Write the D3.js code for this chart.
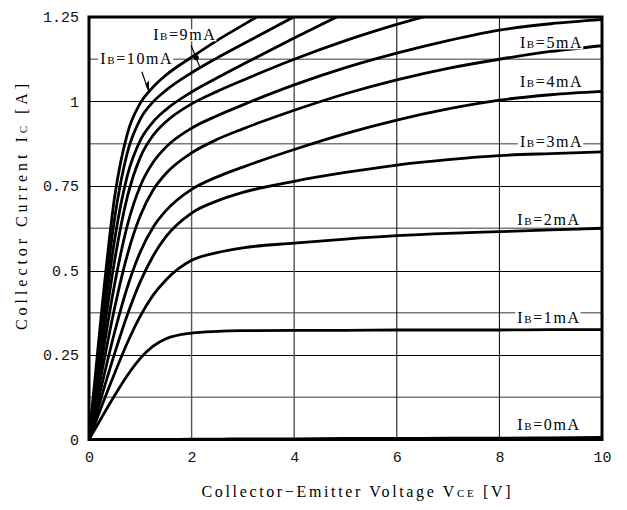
<!DOCTYPE html>
<html>
<head>
<meta charset="utf-8">
<script src="https://cdn.jsdelivr.net/npm/d3@7"></script>
<style>
  html, body { margin: 0; padding: 0; background: #fff; }
  svg { display: block; }
</style>
</head>
<body>
<svg id="chart" width="627" height="510"></svg>
<script>
// ---- data ----
const vce = [0, 0.25, 0.5, 0.75, 1, 1.25, 1.5, 2, 2.5, 3, 4, 5, 6, 7, 8, 9, 10];
const ib0  = [0, 0, 0, 0, 0, 0, 0, 0.001, 0.001, 0.002, 0.002, 0.003, 0.003, 0.004, 0.004, 0.005, 0.006];
const ib1  = [0, 0.066, 0.130, 0.190, 0.240, 0.276, 0.298, 0.315, 0.320, 0.322, 0.323, 0.323, 0.324, 0.324, 0.324, 0.325, 0.325];
const ib2  = [0, 0.100, 0.196, 0.287, 0.365, 0.427, 0.472, 0.530, 0.553, 0.567, 0.581, 0.593, 0.603, 0.610, 0.615, 0.620, 0.625];
const ib3  = [0, 0.130, 0.255, 0.370, 0.467, 0.543, 0.600, 0.670, 0.706, 0.731, 0.764, 0.790, 0.812, 0.828, 0.840, 0.846, 0.851];
const ib4  = [0, 0.162, 0.318, 0.452, 0.555, 0.628, 0.677, 0.740, 0.777, 0.806, 0.858, 0.905, 0.945, 0.978, 1.004, 1.020, 1.030];
const ib5  = [0, 0.200, 0.390, 0.548, 0.662, 0.738, 0.787, 0.848, 0.888, 0.919, 0.974, 1.023, 1.064, 1.098, 1.125, 1.148, 1.165];
const ib6  = [0, 0.237, 0.460, 0.635, 0.750, 0.820, 0.865, 0.921, 0.958, 0.990, 1.049, 1.100, 1.143, 1.180, 1.211, 1.230, 1.242];
const ib7  = [0, 0.274, 0.530, 0.720, 0.835, 0.900, 0.940, 0.993, 1.030, 1.063, 1.125, 1.180, 1.228, 1.270, null, null, null];
const ib8  = [0, 0.311, 0.592, 0.782, 0.885, 0.940, 0.976, 1.028, 1.070, 1.110, 1.188, 1.263, null, null, null, null, null];
const ib9  = [0, 0.348, 0.655, 0.850, 0.948, 0.999, 1.033, 1.085, 1.129, 1.170, 1.251, 1.330, null, null, null, null, null];
const ib10 = [0, 0.386, 0.718, 0.906, 0.995, 1.043, 1.078, 1.131, 1.181, 1.226, 1.316, null, null, null, null, null, null];
const seriesList = [ib0, ib1, ib2, ib3, ib4, ib5, ib6, ib7, ib8, ib9, ib10];

const xTicks = [0, 2, 4, 6, 8, 10];
const yTicks = [0, 0.25, 0.5, 0.75, 1, 1.25];
const yTickLabels = ["0", "0.25", "0.5", "0.75", "1", "1.25"];
const xMinorGrid = [2, 4, 6, 8];
const yMinorGrid = [0.125, 0.375, 0.625, 0.875, 1.125];

// curve labels: base current text, left/baseline position in data units (V, I)
const labelNames = ["0", "1", "2", "3", "4", "5", "9", "10"];
const labelV = [8.35, 8.35, 8.35, 8.4, 8.4, 8.4, 1.25, 0.22];
const labelI = [0.028, 0.345, 0.636, 0.866, 1.043, 1.157, 1.181, 1.111];

// ---- layout ----
const W = 627, H = 510;
const margin = { left: 89, right: 25, top: 17, bottom: 70.5 };
const svg = d3.select("#chart");
const x = d3.scaleLinear().domain([0, 10]).range([margin.left, W - margin.right]);
const y = d3.scaleLinear().domain([0, 1.25]).range([H - margin.bottom, margin.top]);

svg.append("rect").attr("width", W).attr("height", H).attr("fill", "#fff");

// grid
const grid = svg.append("g");
grid.selectAll(".hmin").data(yMinorGrid).enter().append("line")
  .attr("x1", x(0)).attr("x2", x(10)).attr("y1", d => y(d)).attr("y2", d => y(d))
  .attr("stroke", "#7a7a7a").attr("stroke-width", 1.3);
grid.selectAll(".hmaj").data(yTicks.slice(1, -1)).enter().append("line")
  .attr("x1", x(0)).attr("x2", x(10)).attr("y1", d => Math.round(y(d)) + 0.5).attr("y2", d => Math.round(y(d)) + 0.5)
  .attr("stroke", "#000").attr("stroke-width", 1);
grid.selectAll(".v").data(xMinorGrid).enter().append("line")
  .attr("y1", y(0)).attr("y2", y(1.25)).attr("x1", d => x(d)).attr("x2", d => x(d))
  .attr("stroke", d => d < 5 ? "#555" : "#000").attr("stroke-width", d => d < 5 ? 1.4 : 1);

// axes (tick labels only)
const tickFont = "'Liberation Mono', 'DejaVu Sans Mono', monospace";
const xAxis = d3.axisBottom(x).tickValues(xTicks).tickSize(0).tickPadding(12).tickFormat(d3.format("d"));
const gx = svg.append("g").attr("transform", `translate(0,${y(0)})`).call(xAxis);
gx.select(".domain").remove();
gx.selectAll("text").attr("font-family", tickFont).attr("font-size", 15).attr("fill", "#111");

const yAxis = d3.axisLeft(y).tickValues(yTicks).tickSize(0).tickPadding(10).tickFormat((d, i) => yTickLabels[i]);
const gy = svg.append("g").attr("transform", `translate(${x(0)},0)`).call(yAxis);
gy.select(".domain").remove();
gy.selectAll("text").attr("font-family", tickFont).attr("font-size", 15).attr("fill", "#111");

// curves
svg.append("clipPath").attr("id", "clip").append("rect")
  .attr("x", x(0)).attr("y", y(1.25)).attr("width", x(10) - x(0)).attr("height", y(0) - y(1.25));
const line = d3.line()
  .defined(d => d[1] != null)
  .x(d => x(d[0])).y(d => y(d[1]))
  .curve(d3.curveMonotoneX);
const curves = svg.append("g").attr("clip-path", "url(#clip)");
seriesList.forEach(s => {
  curves.append("path")
    .datum(vce.map((v, i) => [v, s[i]]))
    .attr("d", line)
    .attr("fill", "none").attr("stroke", "#000").attr("stroke-width", 2.8)
    .attr("stroke-linejoin", "round");
});

// labels with white background
const serif = "'Liberation Serif', 'Times New Roman', serif";
labelNames.forEach((n, i) => {
  const g = svg.append("g");
  const t = g.append("text")
    .attr("x", x(labelV[i])).attr("y", y(labelI[i]))
    .attr("font-family", serif).attr("font-size", 16).attr("fill", "#000")
    .attr("letter-spacing", 1.6);
  t.append("tspan").text("I");
  t.append("tspan").attr("font-size", 11).text("B");
  t.append("tspan").text("=" + n + "mA");
  const bb = t.node().getBBox();
  g.insert("rect", "text").attr("x", bb.x - 2).attr("y", bb.y + 3).attr("width", bb.width + 2).attr("height", bb.height - 5)
    .attr("fill", "#fff");
});

// leader lines
const leaders = svg.append("g").attr("stroke", "#000").attr("stroke-width", 1.2);
leaders.append("line").attr("x1", x(1.03)).attr("y1", y(1.088)).attr("x2", x(1.15)).attr("y2", y(1.036));
leaders.append("path").attr("stroke", "none").attr("fill", "#000")
  .attr("d", `M${x(1.17)},${y(1.026)} L${x(1.10)},${y(1.05)} L${x(1.17)},${y(1.062)} Z`);
leaders.append("line").attr("x1", x(1.99)).attr("y1", y(1.166)).attr("x2", x(2.16)).attr("y2", y(1.102));
leaders.append("circle").attr("cx", x(2.09)).attr("cy", y(1.13)).attr("r", 2.6).attr("fill", "#000").attr("stroke", "none");

// frame
svg.append("rect").attr("x", x(0)).attr("y", y(1.25)).attr("width", x(10) - x(0)).attr("height", y(0) - y(1.25))
  .attr("fill", "none").attr("stroke", "#000").attr("stroke-width", 3);

// axis titles
const xt = svg.append("text").attr("x", 356).attr("y", 497).attr("text-anchor", "middle")
  .attr("font-family", serif).attr("font-size", 16).attr("fill", "#000")
  .attr("textLength", 309).attr("lengthAdjust", "spacing");
xt.append("tspan").text("Collector\u2212Emitter Voltage V");
xt.append("tspan").attr("font-size", 11).text("CE");
xt.append("tspan").text(" [V]");

const yt = svg.append("text").attr("transform", "translate(27,207) rotate(-90)").attr("text-anchor", "middle")
  .attr("font-family", serif).attr("font-size", 16).attr("fill", "#000")
  .attr("textLength", 246).attr("lengthAdjust", "spacing");
yt.append("tspan").text("Collector Current I");
yt.append("tspan").attr("font-size", 11).text("C");
yt.append("tspan").text(" [A]");
</script>
</body>
</html>
